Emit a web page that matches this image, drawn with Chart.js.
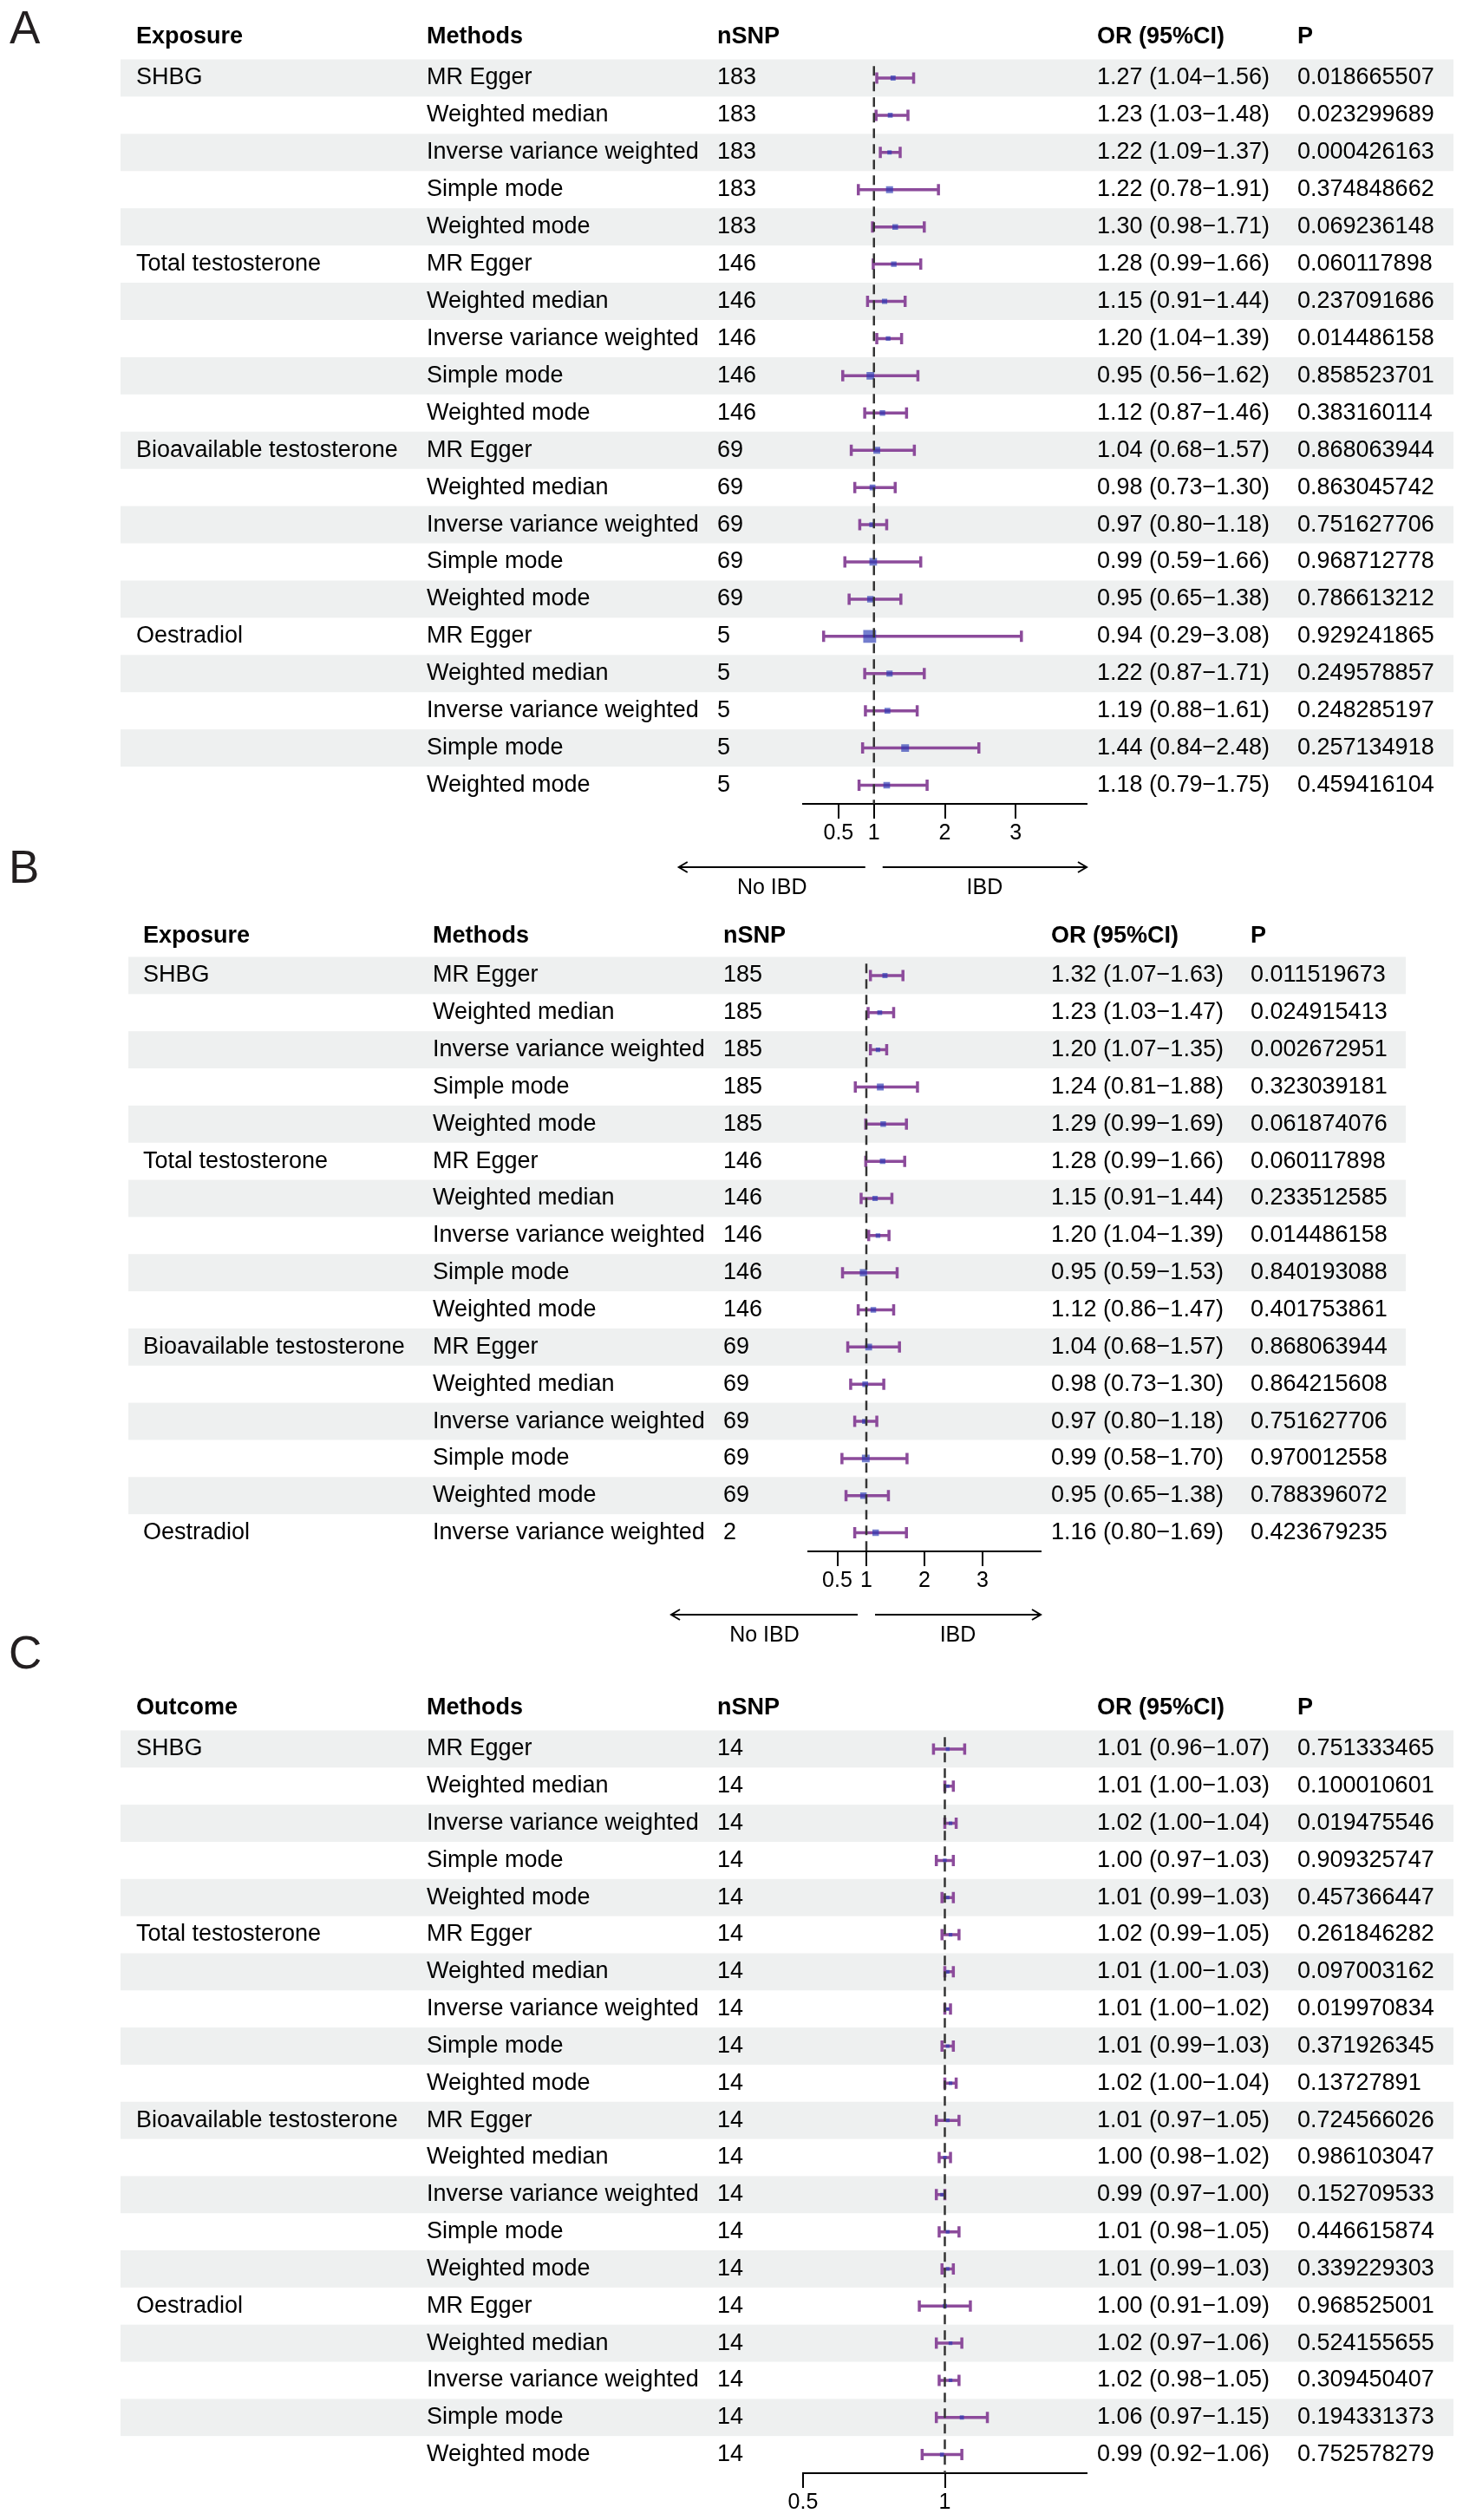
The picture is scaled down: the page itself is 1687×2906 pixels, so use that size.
<!DOCTYPE html>
<html>
<head>
<meta charset="utf-8">
<script src="https://cdn.jsdelivr.net/npm/chart.js@4.4.0/dist/chart.umd.min.js"></script>
<style>
  body { margin: 0; background: #fff; }
  #wrap { position: relative; width: 1687px; height: 2906px; background: #fff; }
  #wrap canvas { position: absolute; left: 0; top: 0; }
</style>
</head>
<body>
<div id="wrap">
  <canvas id="chartA" width="1687" height="2906"></canvas>
  <canvas id="chartB" width="1687" height="2906"></canvas>
  <canvas id="chartC" width="1687" height="2906"></canvas>
</div>
<script>
const FONT = '"Liberation Sans", Arial, Helvetica, sans-serif'

const methods = ['MR Egger', 'Weighted median', 'Inverse variance weighted', 'Simple mode', 'Weighted mode']
const exposures = ['SHBG', 'Total testosterone', 'Bioavailable testosterone', 'Oestradiol']

// A
const aNsnp = [183, 146, 69, 5]
const aOr = [1.27, 1.23, 1.22, 1.22, 1.30, 1.28, 1.15, 1.20, 0.95, 1.12, 1.04, 0.98, 0.97, 0.99, 0.95, 0.94, 1.22, 1.19, 1.44, 1.18]
const aLo = [1.04, 1.03, 1.09, 0.78, 0.98, 0.99, 0.91, 1.04, 0.56, 0.87, 0.68, 0.73, 0.80, 0.59, 0.65, 0.29, 0.87, 0.88, 0.84, 0.79]
const aHi = [1.56, 1.48, 1.37, 1.91, 1.71, 1.66, 1.44, 1.39, 1.62, 1.46, 1.57, 1.30, 1.18, 1.66, 1.38, 3.08, 1.71, 1.61, 2.48, 1.75]
const aP = [0.018665507, 0.023299689, 0.000426163, 0.374848662, 0.069236148, 0.060117898, 0.237091686, 0.014486158, 0.858523701, 0.383160114,
  0.868063944, 0.863045742, 0.751627706, 0.968712778, 0.786613212, 0.929241865, 0.249578857, 0.248285197, 0.257134918, 0.459416104]
const aTicks = [0.5, 1, 2, 3]

// B
const bNsnp = [185, 146, 69, 2]
const bMethodSets = [methods, methods, methods, ['Inverse variance weighted']]
const bOr = [1.32, 1.23, 1.20, 1.24, 1.29, 1.28, 1.15, 1.20, 0.95, 1.12, 1.04, 0.98, 0.97, 0.99, 0.95, 1.16]
const bLo = [1.07, 1.03, 1.07, 0.81, 0.99, 0.99, 0.91, 1.04, 0.59, 0.86, 0.68, 0.73, 0.80, 0.58, 0.65, 0.80]
const bHi = [1.63, 1.47, 1.35, 1.88, 1.69, 1.66, 1.44, 1.39, 1.53, 1.47, 1.57, 1.30, 1.18, 1.70, 1.38, 1.69]
const bP = [0.011519673, 0.024915413, 0.002672951, 0.323039181, 0.061874076, 0.060117898, 0.233512585, 0.014486158,
  0.840193088, 0.401753861, 0.868063944, 0.864215608, 0.751627706, 0.970012558, 0.788396072, 0.423679235]
const bTicks = [0.5, 1, 2, 3]

// C
const cNsnp = [14, 14, 14, 14]
const cOr = [1.01, 1.01, 1.02, 1.00, 1.01, 1.02, 1.01, 1.01, 1.01, 1.02, 1.01, 1.00, 0.99, 1.01, 1.01, 1.00, 1.02, 1.02, 1.06, 0.99]
const cLo = [0.96, 1.00, 1.00, 0.97, 0.99, 0.99, 1.00, 1.00, 0.99, 1.00, 0.97, 0.98, 0.97, 0.98, 0.99, 0.91, 0.97, 0.98, 0.97, 0.92]
const cHi = [1.07, 1.03, 1.04, 1.03, 1.03, 1.05, 1.03, 1.02, 1.03, 1.04, 1.05, 1.02, 1.00, 1.05, 1.03, 1.09, 1.06, 1.05, 1.15, 1.06]
const cP = [0.751333465, 0.100010601, 0.019475546, 0.909325747, 0.457366447, 0.261846282, 0.097003162, 0.019970834, 0.371926345, 0.13727891,
  0.724566026, 0.986103047, 0.152709533, 0.446615874, 0.339229303, 0.968525001, 0.524155655, 0.309450407, 0.194331373, 0.752578279]
const cTicks = [0.5, 1]

const lineColor = '#8c4b9b'
const boxColor = 'rgba(40, 55, 180, 0.65)'

function makeRows(groups, methodSets, nsnp) {
    var rows = []
    groups.forEach((g, gi) => {
        methodSets[gi].forEach((m, mi) => rows.push({ group: mi == 0 ? g : '', method: m, nsnp: nsnp[gi] }))
    })
    return rows
}

function tablePlugin(cfg, rows, or, lo, hi, p) {
    return {
        id: 'table' + cfg.letter,
        beforeDraw(chart) {
            const ctx = chart.ctx, y = chart.scales.y
            ctx.save()
            ctx.fillStyle = '#eef0f0'
            rows.forEach((r, i) => {
                if (i % 2 == 0) {
                    const top = y.getPixelForValue(i - 0.5), bot = y.getPixelForValue(i + 0.5)
                    ctx.fillRect(cfg.band[0], top, cfg.band[1] - cfg.band[0], bot - top)
                }
            })
            ctx.restore()
        },
        afterDraw(chart) {
            const ctx = chart.ctx, y = chart.scales.y, x = chart.scales.x
            ctx.save()
            // panel letter
            ctx.fillStyle = '#231f20'
            ctx.textBaseline = 'alphabetic'
            ctx.textAlign = 'left'
            ctx.font = '53px ' + FONT
            ctx.fillText(cfg.letter, cfg.letterX, cfg.letterY)

            ctx.fillStyle = '#000'
            ctx.textBaseline = 'middle'
            ctx.font = 'bold 27px ' + FONT
            const hy = y.getPixelForValue(0) - cfg.headerGap
            cfg.header.forEach((h, k) => ctx.fillText(h, cfg.cols[k], hy))

            ctx.font = '27px ' + FONT
            rows.forEach((r, i) => {
                const ry = y.getPixelForValue(i)
                ctx.fillText(r.group, cfg.cols[0], ry)
                ctx.fillText(r.method, cfg.cols[1], ry)
                ctx.fillText(String(r.nsnp), cfg.cols[2], ry)
                ctx.fillText(or[i].toFixed(2) + ' (' + lo[i].toFixed(2) + '\u2212' + hi[i].toFixed(2) + ')', cfg.cols[3], ry)
                ctx.fillText(String(p[i]), cfg.cols[4], ry)
            })

            if (cfg.arrows) {
                const x1 = x.getPixelForValue(1)
                const base = chart.chartArea.bottom
                const ay = base + 73
                const l0 = x1 - 225, l1 = x1 - 10, r0 = x1 + 10, r1 = chart.chartArea.right
                ctx.strokeStyle = '#000'
                ctx.lineWidth = 2
                ctx.beginPath()
                ctx.moveTo(l1, ay); ctx.lineTo(l0, ay)
                ctx.moveTo(l0 + 10, ay - 6); ctx.lineTo(l0, ay); ctx.lineTo(l0 + 10, ay + 6)
                ctx.moveTo(r0, ay); ctx.lineTo(r1, ay)
                ctx.moveTo(r1 - 10, ay - 6); ctx.lineTo(r1, ay); ctx.lineTo(r1 - 10, ay + 6)
                ctx.stroke()
                ctx.font = '25px ' + FONT
                ctx.textAlign = 'center'
                ctx.fillText('No IBD', (l0 + l1) / 2, base + 97)
                ctx.fillText('IBD', (r0 + r1) / 2, base + 97)
            }
            ctx.restore()
        }
    }
}

function makeChart(id, cfg, rows, or, lo, hi, p, ticks, range) {
    const n = rows.length
    var ciData = []
    var capData = []
    or.forEach((v, i) => {
        ciData.push({ x: lo[i], y: i }, { x: hi[i], y: i }, { x: hi[i], y: null })
        capData.push({ x: lo[i], y: i }, { x: hi[i], y: i })
    })
    const ptData = or.map((v, i) => ({ x: v, y: i }))
    // box side grows with the standard error of the estimate
    const sides = or.map((v, i) => 4 + 18 * Math.log(hi[i] / lo[i]) / 3.92)

    new Chart(document.getElementById(id), {
        type: 'scatter',
        data: {
            datasets: [{
                data: [{ x: 1, y: -0.32 }, { x: 1, y: n - 0.5 }],
                showLine: true,
                borderColor: '#333',
                borderWidth: 2.5,
                borderDash: [11, 7],
                pointRadius: 0,
            }, {
                data: ptData,
                pointStyle: 'rect',
                pointRadius: c => sides[c.dataIndex] / Math.SQRT2,
                pointBackgroundColor: boxColor,
                pointBorderWidth: 0,
            }, {
                data: capData,
                pointStyle: 'line',
                pointRotation: 90,
                pointRadius: 6.5,
                pointBorderColor: lineColor,
                pointBorderWidth: 3.5,
            }, {
                data: ciData,
                showLine: true,
                spanGaps: false,
                borderColor: lineColor,
                borderWidth: 3.5,
                pointRadius: 0,
            }]
        },
        options: {
            responsive: false,
            animation: false,
            devicePixelRatio: 1,
            events: [],
            layout: { padding: cfg.pad },
            plugins: { legend: { display: false }, tooltip: { enabled: false } },
            scales: {
                x: {
                    type: 'linear',
                    min: range[0],
                    max: range[1],
                    afterBuildTicks: s => { s.ticks = ticks.map(v => ({ value: v })) },
                    afterFit: s => { s.height = cfg.axisH },
                    ticks: {
                        autoSkip: false,
                        maxRotation: 0,
                        padding: 2,
                        color: '#000',
                        font: { family: FONT, size: 25 },
                        callback: v => String(v),
                    },
                    grid: { drawOnChartArea: false, drawTicks: true, tickLength: 17, color: '#000', lineWidth: 2 },
                    border: { display: true, color: '#000', width: 2 },
                },
                y: { type: 'linear', reverse: true, min: -0.5, max: n - 0.5, display: false }
            }
        },
        plugins: [tablePlugin(cfg, rows, or, lo, hi, p)]
    })
}

const rowsA = makeRows(exposures, [methods, methods, methods, methods], aNsnp)
const rowsB = makeRows(exposures, bMethodSets, bNsnp)
const rowsC = makeRows(exposures, [methods, methods, methods, methods], cNsnp)

makeChart('chartA', {
    letter: 'A', letterX: 11, letterY: 50, headerGap: 47, arrows: true,
    header: ['Exposure', 'Methods', 'nSNP', 'OR (95%CI)', 'P'],
    cols: [157, 492, 827, 1265, 1496], band: [139, 1676],
    pad: { left: 926, right: 434, top: 68.5, bottom: 1879 }, axisH: 100
}, rowsA, aOr, aLo, aHi, aP, aTicks, [0, 4])

makeChart('chartB', {
    letter: 'B', letterX: 10, letterY: 1018, headerGap: 45, arrows: true,
    header: ['Exposure', 'Methods', 'nSNP', 'OR (95%CI)', 'P'],
    cols: [165, 499, 834, 1212, 1442], band: [148, 1621],
    pad: { left: 932, right: 487, top: 1103.5, bottom: 1017 }, axisH: 100
}, rowsB, bOr, bLo, bHi, bP, bTicks, [0, 4])

makeChart('chartC', {
    letter: 'C', letterX: 10, letterY: 1924, headerGap: 47, arrows: false,
    header: ['Outcome', 'Methods', 'nSNP', 'OR (95%CI)', 'P'],
    cols: [157, 492, 827, 1265, 1496], band: [139, 1676],
    pad: { left: 926, right: 434, top: 1995.5, bottom: 0 }, axisH: 54
}, rowsC, cOr, cLo, cHi, cP, cTicks, [0.5, 1.5])
</script>
</body>
</html>
